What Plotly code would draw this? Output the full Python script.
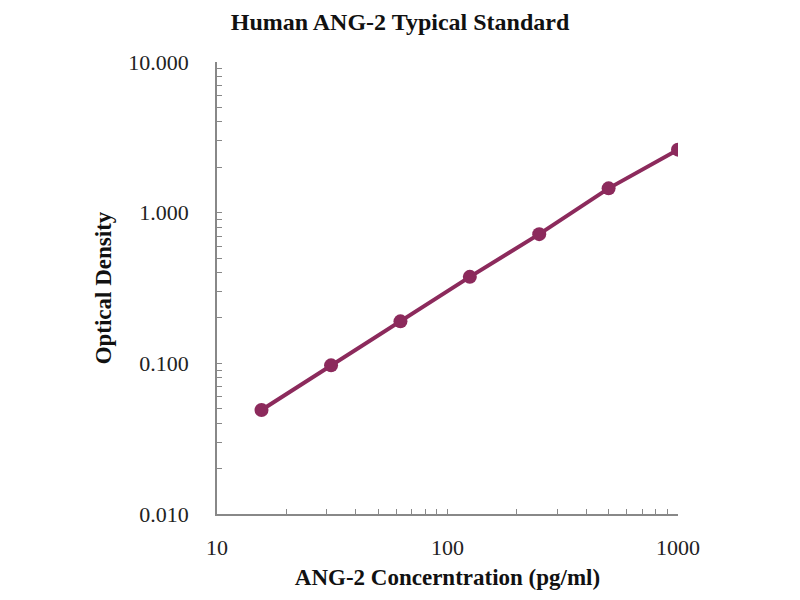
import numpy as np
import plotly.graph_objects as go

# standard curve
conc = [15.6, 31.25, 62.5, 125, 250, 500, 1000]
od = [0.049, 0.097, 0.19, 0.375, 0.72, 1.45, 2.62]

x_major = [10, 100, 1000]
x_labels = ["10", "100", "1000"]
y_major = [0.01, 0.1, 1, 10]
y_labels = ["0.010", "0.100", "1.000", "10.000"]

color = "#8C2A5C"
serif = "Liberation Serif, Times New Roman, serif"


def log_ticks(majors, labels):
    vals, texts = [], []
    for i, m in enumerate(majors):
        vals.append(m)
        texts.append(labels[i])
        if i < len(majors) - 1:
            for k in range(2, 10):
                vals.append(m * k)
                texts.append("")
    return vals, texts


xv, xt = log_ticks(x_major, x_labels)
yv, yt = log_ticks(y_major, y_labels)

fig = go.Figure()
fig.add_trace(go.Scatter(
    x=conc, y=od, mode="lines+markers",
    line=dict(color=color, width=4),
    marker=dict(color=color, size=14),
    showlegend=False,
))

fig.update_layout(
    width=800, height=600,
    margin=dict(l=209, r=130, t=54, b=94),
    paper_bgcolor="white", plot_bgcolor="white",
    font=dict(family=serif, size=22, color="#222222"),
    title=dict(text="<b>Human ANG-2 Typical Standard</b>", x=0.49, xanchor="center",
               y=0.992, yanchor="top", yref="container",
               font=dict(family=serif, size=24, color="#111111")),
)
fig.update_xaxes(
    type="log", range=[1, 3],
    tickvals=xv, ticktext=xt,
    ticks="inside", ticklen=5, tickcolor="#888888",
    ticklabelstandoff=13,
    showline=True, linecolor="#888888", linewidth=1.5,
    showgrid=False, zeroline=False,
    title=dict(text="<b>ANG-2 Concerntration (pg/ml)</b>", standoff=10,
               font=dict(family=serif, size=23, color="#111111")),
)
fig.update_yaxes(
    type="log", range=[-2, 1],
    tickvals=yv, ticktext=yt,
    ticks="inside", ticklen=5, tickcolor="#888888",
    ticklabelstandoff=22,
    showline=True, linecolor="#888888", linewidth=1.5,
    showgrid=False, zeroline=False,
    title=dict(text="<b>Optical Density</b>", standoff=10,
               font=dict(family=serif, size=23, color="#111111")),
)

fig.write_html("out.html")
